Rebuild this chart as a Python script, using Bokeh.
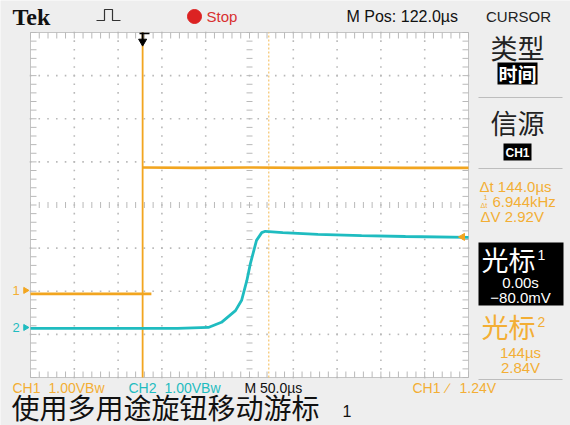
import numpy as np
from bokeh.plotting import figure
from bokeh.models import Label, Range1d
from bokeh.embed import file_html
from bokeh.resources import INLINE

# ---- acquisition settings ----
time_per_div_us = 50.0
h_pos_us = 122.0
n_hdiv = 10
n_vdiv = 8
ch1_volts_per_div = 1.0
ch2_volts_per_div = 1.0
ch1_pos_div = -1.98
ch2_pos_div = -2.84
trigger_level_v = 1.24
cursor1_t_us = 0.0
cursor2_t_us = 144.0

# ---- CH1 waveform (time in µs, volts) ----
ch1_low_t = [-128, 10]
ch1_low_v = [-0.08, -0.08]
ch1_high_t = [0, 60, 120, 180, 240, 300, 372]
ch1_high_v = [2.85, 2.84, 2.85, 2.84, 2.85, 2.84, 2.84]

# ---- CH2 waveform (time in µs, volts) ----
ch2_t = [-128, 0, 40, 75, 90, 106, 113, 119, 123, 127, 130, 136, 140,
         160, 200, 250, 300, 372]
ch2_v = [-0.02, -0.02, -0.02, 0.0, 0.12, 0.39, 0.63, 1.09, 1.48, 1.79,
         2.02, 2.20, 2.23, 2.20, 2.16, 2.13, 2.11, 2.09]

ORANGE = "#f2a51f"
ORANGE_TXT = "#f3ae35"
CYAN = "#1fbcc0"
GRID = "#b9b9b9"
BG = "#eeeeee"
LAT = "Liberation Sans"
CJK = "Noto Sans CJK SC"

W, H = 570, 425
# screen (graticule) placement on the page, in pixels
SX0, SX1, SY0, SY1 = 30, 468, 32, 377

t_left = h_pos_us - time_per_div_us * n_hdiv / 2
t_right = h_pos_us + time_per_div_us * n_hdiv / 2
px_per_us = (SX1 - SX0) / (t_right - t_left)
px_per_div = (SY1 - SY0) / n_vdiv
yc = (SY0 + SY1) / 2

x_start = t_left - SX0 / px_per_us
x_end = t_left + (W - SX0) / px_per_us
y_end = yc / px_per_div
y_start = -(H - yc) / px_per_div


def X(px):
    return x_start + px / px_per_us


def Y(py):
    return y_end - py / px_per_div


p = figure(width=W, height=H, output_backend="svg", toolbar_location=None,
           x_range=Range1d(x_start, x_end), y_range=Range1d(y_start, y_end),
           min_border=0, x_axis_type=None, y_axis_type=None)
p.grid.visible = False
p.outline_line_color = None
p.background_fill_color = BG
p.border_fill_color = BG

# graticule area
p.quad(left=t_left, right=t_right, bottom=-n_vdiv / 2, top=n_vdiv / 2,
       fill_color="white", line_color="#c4c4c4", line_width=1)

# dotted division lines: a dot every fifth of a division
minor_t = np.arange(t_left, t_right + 1e-6, time_per_div_us / 5)
minor_v = np.arange(-n_vdiv / 2, n_vdiv / 2 + 1e-6, 0.2)
dot_x, dot_y = [], []
for i in range(1, n_hdiv):
    if i == n_hdiv // 2:
        continue
    t = t_left + i * time_per_div_us
    dot_x += [t] * len(minor_v)
    dot_y += list(minor_v)
for j in range(1, n_vdiv):
    if j == n_vdiv // 2:
        continue
    v = -n_vdiv / 2 + j
    dot_x += list(minor_t)
    dot_y += [v] * len(minor_t)
p.scatter(dot_x, dot_y, marker="square", size=1.6, color=GRID, line_color=None)

# centre cross and border tick marks
tick_v = 3 / px_per_div
tick_t = 3 / px_per_us
p.segment(x0=minor_t, x1=minor_t, y0=-tick_v, y1=tick_v, line_color=GRID, line_width=1)
p.segment(x0=minor_t, x1=minor_t, y0=n_vdiv / 2 - 2 * tick_v, y1=n_vdiv / 2, line_color=GRID)
p.segment(x0=minor_t, x1=minor_t, y0=-n_vdiv / 2, y1=-n_vdiv / 2 + 2 * tick_v, line_color=GRID)
p.segment(x0=h_pos_us - tick_t, x1=h_pos_us + tick_t, y0=minor_v, y1=minor_v, line_color=GRID)
p.segment(x0=t_left, x1=t_left + 2 * tick_t, y0=minor_v, y1=minor_v, line_color=GRID)
p.segment(x0=t_right - 2 * tick_t, x1=t_right, y0=minor_v, y1=minor_v, line_color=GRID)

# cursors
p.line([cursor1_t_us, cursor1_t_us], [-n_vdiv / 2, n_vdiv / 2], line_color=ORANGE, line_width=1.8)
p.line([cursor2_t_us, cursor2_t_us], [-n_vdiv / 2, n_vdiv / 2], line_color="#f6c46a",
       line_width=1.2, line_dash="2 2")

# waveforms
ch1_low = np.array(ch1_low_v) / ch1_volts_per_div + ch1_pos_div
ch1_high = np.array(ch1_high_v) / ch1_volts_per_div + ch1_pos_div
ch2_y = np.array(ch2_v) / ch2_volts_per_div + ch2_pos_div
p.line(ch1_low_t, ch1_low, line_color=ORANGE, line_width=2.6)
p.line(ch1_high_t, ch1_high, line_color=ORANGE, line_width=2.6)
p.line(ch2_t, ch2_y, line_color=CYAN, line_width=2.8)

# trigger position marker (top) and trigger level marker (right)
p.segment(x0=[cursor1_t_us], x1=[cursor1_t_us], y0=[Y(32)], y1=[Y(40)], line_color="black", line_width=2)
p.segment(x0=[X(139)], x1=[X(149)], y0=[Y(33)], y1=[Y(33)], line_color="black", line_width=1.5)
p.scatter([cursor1_t_us], [Y(41)], marker="inverted_triangle", size=8, color="black")
p.scatter([X(462)], [trigger_level_v / ch1_volts_per_div + ch1_pos_div], marker="triangle",
          angle=np.pi / 2, size=7, color=ORANGE)

# channel ground markers
p.scatter([X(25)], [ch1_pos_div], marker="triangle", angle=-np.pi / 2, size=6, color=ORANGE)
p.scatter([X(25)], [ch2_pos_div], marker="triangle", angle=-np.pi / 2, size=6, color=CYAN)

# acquisition-mode icon in header
p.line([X(v) for v in [96, 104, 104, 112, 112, 120]],
       [Y(v) for v in [20, 20, 9, 9, 20, 20]], line_color="#333333", line_width=1.2)
# run/stop indicator
p.scatter([X(194)], [Y(16)], marker="circle", size=14, color="#dc2222")

# side panel separators and black boxes
for yy in [97, 168, 379]:
    p.line([X(478), X(562)], [Y(yy), Y(yy)], line_color="#bdbdbd", line_width=1)
p.quad(left=[X(497), X(503), X(478)], right=[X(537), X(531), X(563)],
       top=[Y(62), Y(143), Y(242)], bottom=[Y(84), Y(160), Y(305)],
       fill_color="black", line_color=None)


def lab(x, y, text, size, color="black", font=LAT, bold=False, align="left"):
    p.add_layout(Label(x=x, y=H - y, x_units="screen", y_units="screen", text=text,
                       text_font_size=f"{size}px", text_color=color, text_font=font,
                       text_font_style="bold" if bold else "normal",
                       text_align=align, text_baseline="middle"))


# header
lab(12, 16, "Tek", 24, "#111111", font="Liberation Serif", bold=True)
lab(206, 16, "Stop", 15, "#d83030")
lab(346, 16, "M Pos: 122.0\u00b5s", 16, "#111111")
lab(518, 16, "CURSOR", 15, "#222222", align="center")

# side panel
lab(517, 47, "类型", 27, "#222222", font=CJK, align="center")
lab(517, 73, "时间", 19, "white", font=CJK, bold=True, align="center")
lab(517, 122, "信源", 27, "#222222", font=CJK, align="center")
lab(517, 152, "CH1", 12, "white", bold=True, align="center")
lab(479, 186, "\u0394t 144.0\u00b5s", 15, ORANGE_TXT)
lab(483, 197, "1", 7, ORANGE_TXT)
lab(480, 205, "\u0394t", 7, ORANGE_TXT)
lab(492, 201, "6.944kHz", 15, ORANGE_TXT)
lab(480, 216, "\u0394V 2.92V", 15, ORANGE_TXT)
lab(481, 259, "光标", 27, "white", font=CJK)
lab(537, 254, "1", 14, "white")
lab(520, 282, "0.00s", 15, "white", align="center")
lab(520, 297, "\u221280.0mV", 15, "white", align="center")
lab(481, 326, "光标", 27, ORANGE_TXT, font=CJK)
lab(537, 321, "2", 14, ORANGE_TXT)
lab(520, 352, "144\u00b5s", 15, ORANGE_TXT, align="center")
lab(520, 367, "2.84V", 15, ORANGE_TXT, align="center")

# ground marker labels
lab(12, ch1_pos_div * -px_per_div + yc, "1", 13, ORANGE_TXT)
lab(12, ch2_pos_div * -px_per_div + yc, "2", 13, CYAN)

# status line
lab(12, 387, "CH1", 14, ORANGE_TXT)
lab(48, 387, "1.00VBw", 14, ORANGE_TXT)
lab(128, 387, "CH2", 14, CYAN)
lab(164, 387, "1.00VBw", 14, CYAN)
lab(244, 387, "M 50.0\u00b5s", 14, "#111111")
lab(412, 387, "CH1", 14, ORANGE_TXT)
lab(446, 387, "\u2215", 14, ORANGE_TXT)
lab(459, 387, "1.24V", 14, ORANGE_TXT)

# prompt line
lab(11, 406, "使用多用途旋钮移动游标", 28, "#111111", font=CJK)
lab(342, 410, "1", 16, "#111111")

open("out.html", "w").write(file_html(p, INLINE))
